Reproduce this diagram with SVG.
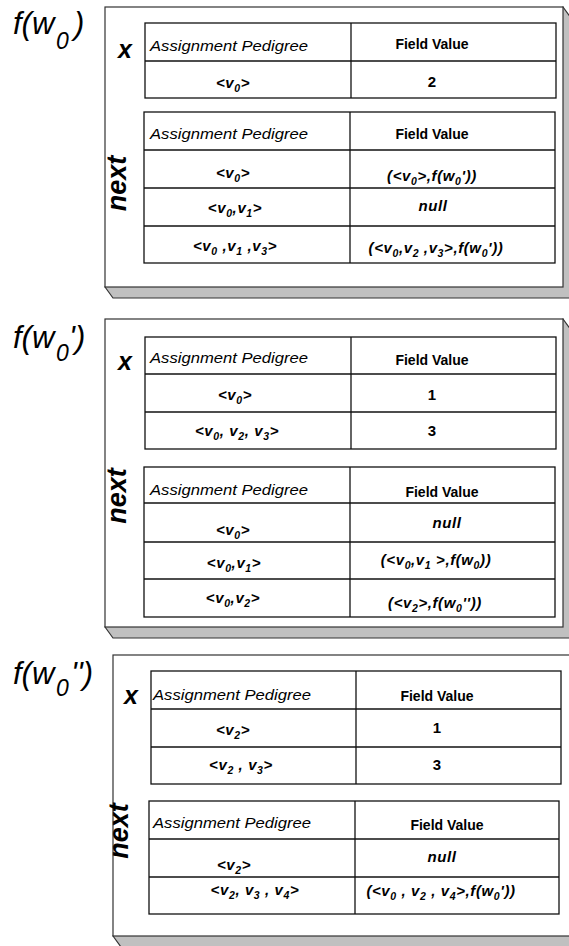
<svg xmlns="http://www.w3.org/2000/svg" width="569" height="946" viewBox="0 0 569 946">
<style>
.shadow{fill:#c0c0c0;stroke:#333;stroke-width:1.2}
.frame{fill:#fff;stroke:#333;stroke-width:1.2}
.tbl{fill:#fff;stroke:#111;stroke-width:1.3}
.grid{stroke:#111;stroke-width:1.3}
text{font-family:"Liberation Sans",Arial,Helvetica,sans-serif;fill:#000}
.lbl{font-style:italic;font-size:31px}
.lsub{font-size:23px}
.side{font-style:italic;font-weight:bold;font-size:25px;text-anchor:middle}
.next{font-style:italic;font-weight:bold;font-size:27px;text-anchor:middle}
.hdr{font-style:italic;font-size:14px}
.fv{font-weight:bold;font-size:14px;text-anchor:middle}
.cell{font-style:italic;font-weight:bold;font-size:15px;letter-spacing:0.6px;text-anchor:middle}
.num{font-weight:bold;font-size:15px;text-anchor:middle}
.sub{font-size:10.5px}
</style>
<g id="connectors"></g>

<g id="panel-fw0">
  <polygon class="shadow" points="105,287 113,298 571,298 571,18 563,7"/>
  <rect class="frame" x="105" y="7" width="458" height="280"/>
  <text class="lbl" x="13" y="34">f(w<tspan class="lsub" x="56" dy="15">0</tspan><tspan x="74" dy="-15">)</tspan></text>
  <text class="side" x="125" y="58">x</text>
  <text class="next" transform="translate(126,183.5) rotate(-90)">next</text>
  <g id="p1-x-table">
    <rect class="tbl" x="145" y="23" width="411" height="75"/>
    <line class="grid" x1="145" y1="61" x2="556" y2="61"/>
    <line class="grid" x1="351" y1="23" x2="351" y2="98"/>
    <text class="hdr" x="150" y="51" textLength="158" lengthAdjust="spacingAndGlyphs">Assignment Pedigree</text>
    <text class="fv" x="432" y="49">Field Value</text>
    <text class="cell" x="233" y="88">&lt;v<tspan class="sub" dy="4">0</tspan><tspan dy="-4">&gt;</tspan></text>
    <text class="num" x="432" y="87">2</text>
  </g>
  <g id="p1-next-table">
    <rect class="tbl" x="144" y="112" width="411" height="151"/>
    <line class="grid" x1="144" y1="150" x2="555" y2="150"/>
    <line class="grid" x1="144" y1="188" x2="555" y2="188"/>
    <line class="grid" x1="144" y1="226" x2="555" y2="226"/>
    <line class="grid" x1="350" y1="112" x2="350" y2="263"/>
    <text class="hdr" x="150" y="139" textLength="158" lengthAdjust="spacingAndGlyphs">Assignment Pedigree</text>
    <text class="fv" x="432" y="139">Field Value</text>
    <text class="cell" x="233" y="178">&lt;v<tspan class="sub" dy="4">0</tspan><tspan dy="-4">&gt;</tspan></text>
    <text class="cell" x="432" y="181">(&lt;v<tspan class="sub" dy="4">0</tspan><tspan dy="-4">&gt;,f(w</tspan><tspan class="sub" dy="4">0</tspan><tspan dy="-4">'))</tspan></text>
    <text class="cell" x="235" y="213">&lt;v<tspan class="sub" dy="4">0</tspan><tspan dy="-4">,v</tspan><tspan class="sub" dy="4">1</tspan><tspan dy="-4">&gt;</tspan></text>
    <text class="cell" x="433" y="211">null</text>
    <text class="cell" x="235" y="251">&lt;v<tspan class="sub" dy="4">0</tspan><tspan dy="-4"> ,v</tspan><tspan class="sub" dy="4">1</tspan><tspan dy="-4"> ,v</tspan><tspan class="sub" dy="4">3</tspan><tspan dy="-4">&gt;</tspan></text>
    <text class="cell" x="436" y="253">(&lt;v<tspan class="sub" dy="4">0</tspan><tspan dy="-4">,v</tspan><tspan class="sub" dy="4">2</tspan><tspan dy="-4"> ,v</tspan><tspan class="sub" dy="4">3</tspan><tspan dy="-4">&gt;,f(w</tspan><tspan class="sub" dy="4">0</tspan><tspan dy="-4">'))</tspan></text>
  </g>
</g>

<g id="panel-fw0p">
  <polygon class="shadow" points="105,627 113,638 571,638 571,330 563,319"/>
  <rect class="frame" x="105" y="319" width="458" height="308"/>
  <text class="lbl" x="13" y="348">f(w<tspan class="lsub" x="56" dy="13">0</tspan><tspan x="69" dy="-13">')</tspan></text>
  <text class="side" x="125" y="370">x</text>
  <text class="next" transform="translate(126,496) rotate(-90)">next</text>
  <g id="p2-x-table">
    <rect class="tbl" x="145" y="337" width="411" height="112"/>
    <line class="grid" x1="145" y1="374" x2="556" y2="374"/>
    <line class="grid" x1="145" y1="412" x2="556" y2="412"/>
    <line class="grid" x1="351" y1="337" x2="351" y2="449"/>
    <text class="hdr" x="150" y="363" textLength="158" lengthAdjust="spacingAndGlyphs">Assignment Pedigree</text>
    <text class="fv" x="432" y="365">Field Value</text>
    <text class="cell" x="235" y="400">&lt;v<tspan class="sub" dy="4">0</tspan><tspan dy="-4">&gt;</tspan></text>
    <text class="num" x="432" y="400">1</text>
    <text class="cell" x="237" y="436">&lt;v<tspan class="sub" dy="4">0</tspan><tspan dy="-4">, v</tspan><tspan class="sub" dy="4">2</tspan><tspan dy="-4">, v</tspan><tspan class="sub" dy="4">3</tspan><tspan dy="-4">&gt;</tspan></text>
    <text class="num" x="432" y="436">3</text>
  </g>
  <g id="p2-next-table">
    <rect class="tbl" x="144" y="467" width="411" height="150"/>
    <line class="grid" x1="144" y1="503" x2="555" y2="503"/>
    <line class="grid" x1="144" y1="542" x2="555" y2="542"/>
    <line class="grid" x1="144" y1="579" x2="555" y2="579"/>
    <line class="grid" x1="350" y1="467" x2="350" y2="617"/>
    <text class="hdr" x="150" y="495" textLength="158" lengthAdjust="spacingAndGlyphs">Assignment Pedigree</text>
    <text class="fv" x="442" y="497">Field Value</text>
    <text class="cell" x="233" y="535">&lt;v<tspan class="sub" dy="4">0</tspan><tspan dy="-4">&gt;</tspan></text>
    <text class="cell" x="447" y="528">null</text>
    <text class="cell" x="234" y="568">&lt;v<tspan class="sub" dy="4">0</tspan><tspan dy="-4">,v</tspan><tspan class="sub" dy="4">1</tspan><tspan dy="-4">&gt;</tspan></text>
    <text class="cell" x="436" y="565">(&lt;v<tspan class="sub" dy="4">0</tspan><tspan dy="-4">,v</tspan><tspan class="sub" dy="4">1</tspan><tspan dy="-4"> &gt;,f(w</tspan><tspan class="sub" dy="4">0</tspan><tspan dy="-4">))</tspan></text>
    <text class="cell" x="233" y="603">&lt;v<tspan class="sub" dy="4">0</tspan><tspan dy="-4">,v</tspan><tspan class="sub" dy="4">2</tspan><tspan dy="-4">&gt;</tspan></text>
    <text class="cell" x="435" y="608">(&lt;v<tspan class="sub" dy="4">2</tspan><tspan dy="-4">&gt;,f(w</tspan><tspan class="sub" dy="4">0</tspan><tspan dy="-4">''))</tspan></text>
  </g>
</g>

<g id="panel-fw0pp">
  <polygon class="shadow" points="113,936 121,947 579,947 579,666 571,655"/>
  <rect class="frame" x="113" y="655" width="458" height="281"/>
  <text class="lbl" x="13" y="684">f(w<tspan class="lsub" x="56" dy="12">0</tspan><tspan x="71" dy="-12">'')</tspan></text>
  <text class="side" x="131" y="704">x</text>
  <text class="next" transform="translate(128,831) rotate(-90)">next</text>
  <g id="p3-x-table">
    <rect class="tbl" x="151" y="671" width="410" height="113"/>
    <line class="grid" x1="151" y1="709" x2="561" y2="709"/>
    <line class="grid" x1="151" y1="747" x2="561" y2="747"/>
    <line class="grid" x1="356" y1="671" x2="356" y2="784"/>
    <text class="hdr" x="153" y="700" textLength="158" lengthAdjust="spacingAndGlyphs">Assignment Pedigree</text>
    <text class="fv" x="437" y="701">Field Value</text>
    <text class="cell" x="233" y="735">&lt;v<tspan class="sub" dy="4">2</tspan><tspan dy="-4">&gt;</tspan></text>
    <text class="num" x="437" y="733">1</text>
    <text class="cell" x="241" y="770">&lt;v<tspan class="sub" dy="4">2</tspan><tspan dy="-4"> , v</tspan><tspan class="sub" dy="4">3</tspan><tspan dy="-4">&gt;</tspan></text>
    <text class="num" x="437" y="770">3</text>
  </g>
  <g id="p3-next-table">
    <rect class="tbl" x="149" y="801" width="410" height="113"/>
    <line class="grid" x1="149" y1="839" x2="559" y2="839"/>
    <line class="grid" x1="149" y1="877" x2="559" y2="877"/>
    <line class="grid" x1="355" y1="801" x2="355" y2="914"/>
    <text class="hdr" x="153" y="828" textLength="158" lengthAdjust="spacingAndGlyphs">Assignment Pedigree</text>
    <text class="fv" x="447" y="830">Field Value</text>
    <text class="cell" x="234" y="870">&lt;v<tspan class="sub" dy="4">2</tspan><tspan dy="-4">&gt;</tspan></text>
    <text class="cell" x="442" y="862">null</text>
    <text class="cell" x="255" y="895">&lt;v<tspan class="sub" dy="4">2</tspan><tspan dy="-4">, v</tspan><tspan class="sub" dy="4">3</tspan><tspan dy="-4"> , v</tspan><tspan class="sub" dy="4">4</tspan><tspan dy="-4">&gt;</tspan></text>
    <text class="cell" x="441" y="896">(&lt;v<tspan class="sub" dy="4">0</tspan><tspan dy="-4"> , v</tspan><tspan class="sub" dy="4">2</tspan><tspan dy="-4"> , v</tspan><tspan class="sub" dy="4">4</tspan><tspan dy="-4">&gt;,f(w</tspan><tspan class="sub" dy="4">0</tspan><tspan dy="-4">'))</tspan></text>
  </g>
</g>
</svg>
